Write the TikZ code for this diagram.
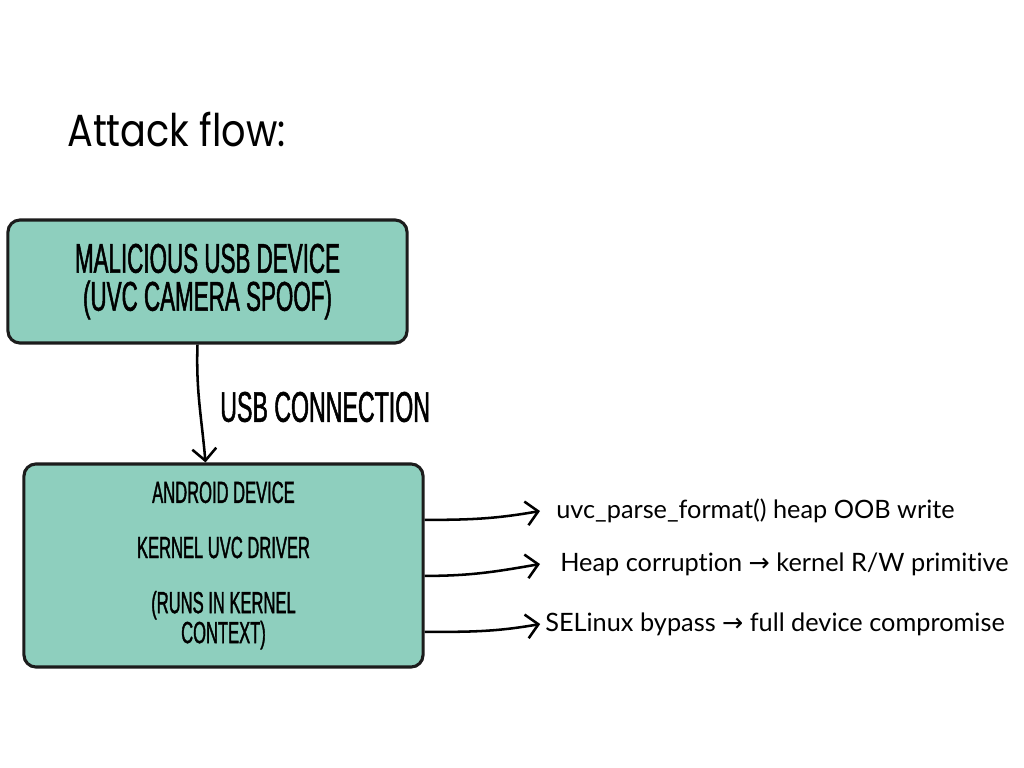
\documentclass[tikz,border=0pt]{standalone}
\usepackage{fontspec}
\setmainfont[Ligatures=NoCommon]{Lato}
\newfontfamily\titlefont[FakeStretch=0.85]{Poppins}
\newfontfamily\markerfont[FakeStretch=0.54,FakeBold=1.2]{Liberation Sans}
\newfontfamily\symfont{DejaVu Sans}
\usetikzlibrary{positioning,arrows.meta}
\definecolor{boxgreen}{HTML}{8ECFBE}
\definecolor{edgegray}{HTML}{1C1C1C}

\begin{document}
\begin{tikzpicture}[
  x=0.025cm, y=-0.025cm,
  box/.style={draw=edgegray, fill=boxgreen, line width=2.2pt,
    rounded corners=0.3cm, align=center, inner sep=0pt,
    minimum width=9.975cm},
  arr/.style={-{Straight Barb[length=3mm, width=6mm]}, line width=1.8pt},
  lbl/.style={anchor=west, inner sep=0pt, font=\fontsize{18}{21}\selectfont}
]
\useasboundingbox (0,0) rectangle (1024,768);

\node[font=\titlefont\fontsize{32}{36}\selectfont, anchor=west, inner sep=0pt]
  (title) at (67,130) {Attack flow:};

\node[box, minimum height=3.075cm,
  font=\markerfont\fontsize{29.5}{27}\selectfont] (mal) at (207.5,281.5)
  {MALICIOUS USB DEVICE\\(UVC CAMERA SPOOF)};
\node[box, minimum height=5.075cm,
  font=\markerfont\fontsize{21.8}{19.2}\selectfont] (andr) at (223.5,565.5)
  {ANDROID DEVICE\\[20pt]
   KERNEL UVC DRIVER\\[20pt](RUNS IN KERNEL\\CONTEXT)};

\draw[arr] ([xshift=-0.25cm]mal.south) to[out=-92, in=95] ([xshift=-0.45cm]andr.north);
\node[font=\markerfont\fontsize{30.5}{32}\selectfont, anchor=west, inner sep=0pt]
  (conn) at (220,407) {USB CONNECTION};

% outcomes of the overflow
\node[lbl] (oob) at (556,511) {uvc\_parse\_format() heap OOB write};
\node[lbl] (heap) at (560,564) {Heap corruption {\symfont →} kernel R/W primitive};
\node[lbl] (selx) at (545,624) {SELinux bypass {\symfont →} full device compromise};

\draw[arr] ([yshift=1.14cm]andr.east) to[out=0, in=190] ([xshift=-0.4cm]oob.west);
\draw[arr] ([yshift=-0.26cm]andr.east) to[out=0, in=190] ([xshift=-0.5cm]heap.west);
\draw[arr] ([yshift=-1.66cm]andr.east) to[out=0, in=190] ([xshift=-0.12cm]selx.west);
\end{tikzpicture}
\end{document}
